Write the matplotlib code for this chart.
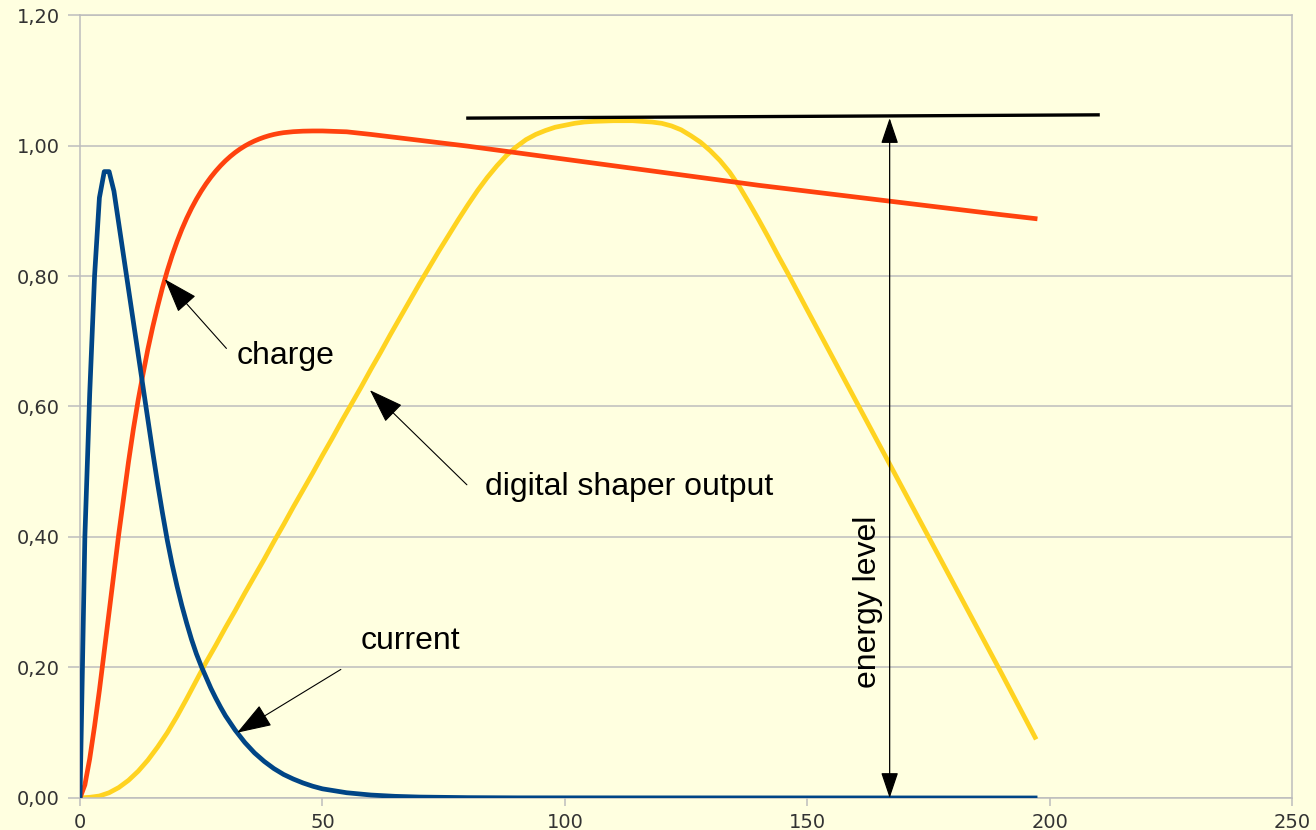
import matplotlib.pyplot as plt
from matplotlib.ticker import FuncFormatter

# detector current pulse
cur_x = [0, 1, 2, 3, 4, 5, 6, 7, 8, 9, 10, 11, 12, 13, 14, 15, 16, 17, 18, 19, 20,
         21, 22, 23, 24, 25, 26, 27, 28, 29, 30, 32, 34, 36, 38, 40, 42, 44, 46, 48,
         50, 55, 60, 65, 70, 80, 90, 197]
cur_y = [0, 0.40, 0.62, 0.80, 0.92, 0.96, 0.96, 0.93, 0.88, 0.83, 0.78, 0.73, 0.68,
         0.63, 0.58, 0.53, 0.482, 0.437, 0.395, 0.358, 0.325, 0.295, 0.268, 0.243,
         0.221, 0.202, 0.185, 0.168, 0.153, 0.139, 0.126, 0.104, 0.085, 0.069, 0.056,
         0.045, 0.036, 0.029, 0.023, 0.018, 0.014, 0.008, 0.0045, 0.0025, 0.0014,
         0.0005, 0.0002, 0.0]

# collected charge
chg_x = [0, 1, 2, 3, 4, 5, 6, 7, 8, 9, 10, 11, 12, 13, 14, 15, 16, 17, 18, 19, 20,
         21, 22, 23, 24, 25, 26, 27, 28, 29, 30, 31, 32, 33, 34, 35, 36, 37, 38, 39,
         40, 41, 42, 44, 46, 48, 50, 55, 60, 65, 70, 80, 90, 100, 110, 120, 130, 140,
         150, 160, 170, 180, 190, 197]
chg_y = [0, 0.02, 0.06, 0.11, 0.165, 0.225, 0.285, 0.345, 0.405, 0.46, 0.515, 0.565,
         0.61, 0.65, 0.688, 0.722, 0.753, 0.782, 0.808, 0.8315, 0.8525, 0.8715,
         0.8885, 0.9038, 0.9176, 0.9301, 0.9414, 0.9516, 0.9608, 0.9691, 0.9766,
         0.9833, 0.9893, 0.9946, 0.9993, 1.0034, 1.007, 1.0101, 1.0128, 1.0151, 1.017,
         1.0185, 1.0197, 1.0212, 1.022, 1.0223, 1.0223, 1.021, 1.017, 1.0125, 1.008,
         0.999, 0.989, 0.979, 0.969, 0.959, 0.949, 0.939, 0.93, 0.921, 0.912, 0.903,
         0.894, 0.888]

# trapezoidal shaper output
shp_x = [0, 2, 4, 6, 8, 10, 12, 14, 16, 18, 20, 22, 24, 26, 28, 30, 32, 34, 36, 38,
         40, 42, 44, 46, 48, 50, 52, 54, 56, 58, 60, 62, 64, 66, 68, 70, 72, 74, 76,
         78, 80, 82, 84, 86, 88, 90, 92, 94, 96, 98, 100, 102, 104, 106, 110, 114,
         118, 120, 122, 124, 126, 128, 130, 132, 134, 136, 138, 140, 142, 144, 146,
         148, 150, 160, 170, 180, 190, 197]
shp_y = [0, 0.001, 0.003, 0.008, 0.016, 0.027, 0.041, 0.058, 0.078, 0.100, 0.125,
         0.152, 0.180, 0.208, 0.234, 0.261, 0.287, 0.314, 0.340, 0.366, 0.393, 0.419,
         0.446, 0.472, 0.498, 0.525, 0.551, 0.578, 0.604, 0.630, 0.657, 0.683, 0.710,
         0.736, 0.762, 0.788, 0.813, 0.838, 0.862, 0.886, 0.909, 0.931, 0.951, 0.969,
         0.985, 0.998, 1.009, 1.017, 1.023, 1.028, 1.031, 1.034, 1.036, 1.037, 1.038,
         1.038, 1.036, 1.034, 1.030, 1.024, 1.015, 1.005, 0.992, 0.977, 0.959, 0.937,
         0.912, 0.886, 0.859, 0.831, 0.804, 0.776, 0.748, 0.609, 0.470, 0.331, 0.192,
         0.093]

# peak level marker
level_x = [80, 210]
level_y = [1.042, 1.047]
level_at = 167

x_ticks = [0, 50, 100, 150, 200, 250]
y_ticks = [0, 0.2, 0.4, 0.6, 0.8, 1.0, 1.2]

bg = '#FFFFE0'
grid_col = '#BDBDBD'

fig = plt.figure(figsize=(13.16, 8.30), dpi=100, facecolor=bg)
ax = fig.add_axes([0.0608, 0.0386, 0.921, 0.9433], facecolor=bg)

ax.plot(cur_x, cur_y, color='#004586', lw=3.4, zorder=4)
ax.plot(chg_x, chg_y, color='#FF420E', lw=3.4, zorder=3)
ax.plot(shp_x, shp_y, color='#FFD320', lw=3.4, zorder=2)
ax.plot(level_x, level_y, color='black', lw=2.4, zorder=5)

ax.set_xlim(0, 250)
ax.set_ylim(0, 1.2)
ax.set_xticks(x_ticks)
ax.set_yticks(y_ticks)
ax.yaxis.set_major_formatter(FuncFormatter(lambda v, p: ('%.2f' % v).replace('.', ',')))
ax.grid(axis='y', color=grid_col, lw=1.1, zorder=0)
for s in ax.spines.values():
    s.set_color(grid_col)
    s.set_linewidth(1.1)
ax.tick_params(axis='y', length=8.6, width=1.1, color=grid_col, pad=6,
               labelsize=14, labelcolor='#333333')
ax.tick_params(axis='x', length=6, width=1.1, color=grid_col, pad=5,
               labelsize=14, labelcolor='#333333')
for lab in ax.get_xticklabels() + ax.get_yticklabels():
    lab.set_family('DejaVu Sans')

txt = dict(fontsize=23, family='Liberation Sans', color='black')
arr = dict(arrowstyle='-|>,head_length=1.1,head_width=0.38', color='black',
           lw=0.8, mutation_scale=20, shrinkA=0, shrinkB=0)

ax.annotate('', xy=(17.5, 0.795), xytext=(30.2, 0.689), arrowprops=arr, zorder=6)
ax.text(32.3, 0.665, 'charge', ha='left', va='baseline', **txt)

ax.annotate('', xy=(59.8, 0.625), xytext=(79.8, 0.48), arrowprops=arr, zorder=6)
ax.text(83.5, 0.464, 'digital shaper output', ha='left', va='baseline', **txt)

ax.annotate('', xy=(32.4, 0.1), xytext=(53.8, 0.197), arrowprops=arr, zorder=6)
ax.text(57.8, 0.228, 'current', ha='left', va='baseline', **txt)

# double arrow for the energy level
ax.annotate('', xy=(level_at, 1.042), xytext=(level_at, 0),
            arrowprops=dict(arrowstyle='<|-|>,head_length=0.8,head_width=0.27',
                            color='black', lw=0.9, mutation_scale=20,
                            shrinkA=0, shrinkB=0), zorder=6)
ax.text(162.5, 0.30, 'energy level', rotation=90, ha='center', va='center', **txt)

plt.savefig('out.png', dpi=100, facecolor=bg)
